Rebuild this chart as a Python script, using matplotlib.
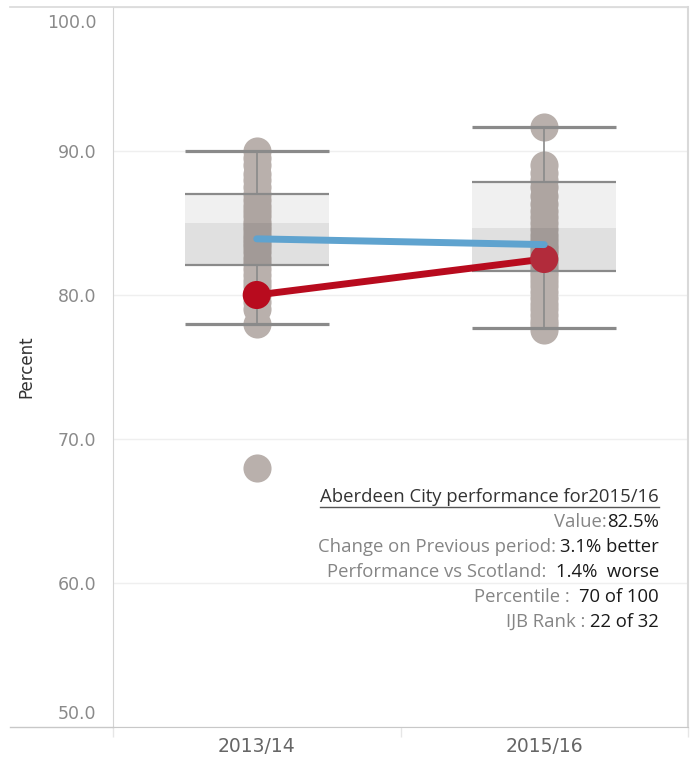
import numpy as np
import matplotlib.pyplot as plt
from matplotlib.lines import Line2D
from matplotlib.patches import Rectangle
from matplotlib.transforms import ScaledTranslation

# -----------------------------
# data
# -----------------------------
periods = ['2013/14', '2015/16']

# every IJB value per period (grey dots)
ijb_1314 = [90.0, 89.5, 89.0, 88.4, 88.0, 87.5, 87.0, 86.6, 86.2, 85.8, 85.5,
            85.1, 84.8, 84.5, 84.2, 83.9, 83.6, 83.3, 83.0, 82.6, 82.2, 81.8,
            81.4, 81.0, 80.6, 80.0, 79.5, 79.0, 78.0, 68.0]
ijb_1516 = [91.7, 89.0, 88.5, 88.0, 87.5, 86.9, 86.3, 85.8, 85.4, 85.0, 84.6,
            84.2, 83.8, 83.5, 83.2, 82.9, 82.5, 82.2, 81.9, 81.6, 81.3, 81.0,
            80.6, 80.2, 79.8, 79.4, 79.0, 78.6, 78.2, 77.9, 77.6]

# box plot figures
q1 = [82.1, 81.7]
median = [85.0, 84.65]
q3 = [87.0, 87.85]
whisker_lo = [78.0, 77.7]
whisker_hi = [90.0, 91.7]

aberdeen = [80.0, 82.5]
scotland = [83.9, 83.5]

yticks = [50, 60, 70, 80, 90, 100]

info_title = 'Aberdeen City performance for2015/16'
info_labels = ['Value:', 'Change on Previous period: ', 'Performance vs Scotland:  ',
               'Percentile :  ', 'IJB Rank : ']
info_values = ['82.5%', '3.1% better', '1.4%  worse', '70 of 100', '22 of 32']

# -----------------------------
# figure
# -----------------------------
W, H = 695, 761
fig = plt.figure(figsize=(W / 100, H / 100), dpi=100)
ax = fig.add_axes([113 / W, 34 / H, 575 / W, 720 / H])

x = np.arange(len(periods))
dot_grey = '#b9b0ac'
line_grey = '#8a8a8a'

for i, vals in enumerate([ijb_1314, ijb_1516]):
    ax.scatter(np.full(len(vals), x[i]), vals, s=410, color=dot_grey, lw=0, zorder=2)

# boxes drawn on top of the dots, slightly transparent
ax.bar(x, np.array(q3) - np.array(median), bottom=median, width=0.5,
       color='black', alpha=0.06, lw=0, zorder=3)
ax.bar(x, np.array(median) - np.array(q1), bottom=q1, width=0.5,
       color='black', alpha=0.12, lw=0, zorder=3)
ax.hlines(q1 + q3, np.tile(x, 2) - 0.25, np.tile(x, 2) + 0.25,
          color=line_grey, lw=1.6, zorder=4)
ax.hlines(whisker_lo + whisker_hi, np.tile(x, 2) - 0.25, np.tile(x, 2) + 0.25,
          color=line_grey, lw=2.3, zorder=4)
ax.vlines(x, q3, whisker_hi, color=line_grey, lw=1.2, zorder=4)
ax.vlines(x, whisker_lo, q1, color=line_grey, lw=1.2, zorder=4)

# Aberdeen City and Scotland lines
ax.plot(x, aberdeen, color='#b80b1e', lw=5, solid_capstyle='round', zorder=5)
ax.scatter(x, aberdeen, s=410, color=['#b80b1e', '#b22b3b'], lw=0, zorder=6)
ax.plot(x, scotland, color='#5fa3cf', lw=5, solid_capstyle='round', zorder=7)

# axes styling
ax.set_xlim(-0.5, 1.5)
ax.set_ylim(50, 100)
ax.set_xticks(x)
ax.set_xticklabels(periods)
ax.set_xticks([-0.5, 0.5, 1.5], minor=True)
ax.set_yticks(yticks)
ax.set_yticklabels([f'{v:.1f}' for v in yticks])
ax.tick_params(axis='x', which='major', length=0, pad=7, labelsize=13.5, labelcolor='#666666')
ax.tick_params(axis='x', which='minor', length=7, color='#e6e6e6', width=1)
ax.tick_params(axis='y', length=0, pad=12, labelsize=12.5, labelcolor='#8a8a8a')
ax.yaxis.grid(True, color='#efefef', lw=1)
ax.set_axisbelow(True)

ax.spines['top'].set_visible(False)
ax.spines['left'].set_color('#d4d4d4')
ax.spines['right'].set_color('#d9d9d9')
ax.spines['bottom'].set_color('#c8c8c8')
ax.spines['right'].set_linewidth(1.5)

# end labels sit inside the axis range
labels = ax.get_yticklabels()
labels[0].set_va('bottom')
labels[0].set_transform(labels[0].get_transform() + ScaledTranslation(0, 3 / 72, fig.dpi_scale_trans))
labels[-1].set_va('top')
labels[-1].set_transform(labels[-1].get_transform() + ScaledTranslation(0, -5 / 72, fig.dpi_scale_trans))

ax.set_ylabel('Percent', fontsize=12, color='#333333', va='center')
ax.yaxis.set_label_coords(-0.15, 0.5)

# outer frame lines
fig.add_artist(Line2D([10 / W, 688 / W], [1 - 7 / H, 1 - 7 / H], color='#d9d9d9', lw=1.2))
fig.add_artist(Line2D([10 / W, 113 / W], [34 / H, 34 / H], color='#c8c8c8', lw=1))

# -----------------------------
# info box
# -----------------------------
fig.add_artist(Rectangle((298 / W, 1 - 652 / H), 364 / W, 174 / H,
                         transform=fig.transFigure, color='#f6f6f6', lw=0, zorder=0))
font = ['Open Sans', 'DejaVu Sans']
fs = 13.3
rx = 659 / W
title = fig.text(rx, 1 - 497 / H, info_title, ha='right', va='center',
                 fontsize=fs, color='#333333', family=font)
for k, (lab, val) in enumerate(zip(info_labels, info_values)):
    yy = 1 - (522 + 25 * k) / H
    vt = fig.text(rx, yy, val, ha='right', va='center', fontsize=fs,
                  color='#1a1a1a', family=font)
    ax.annotate(lab, xy=(0, 0.5), xycoords=vt, ha='right', va='center',
                fontsize=fs, color='#858585', family=font)

fig.canvas.draw()
bb = title.get_window_extent().transformed(fig.transFigure.inverted())
fig.add_artist(Line2D([bb.x0, bb.x1], [bb.y0 - 1 / H, bb.y0 - 1 / H], color='#555555', lw=1))

fig.savefig('out.png', dpi=100)
